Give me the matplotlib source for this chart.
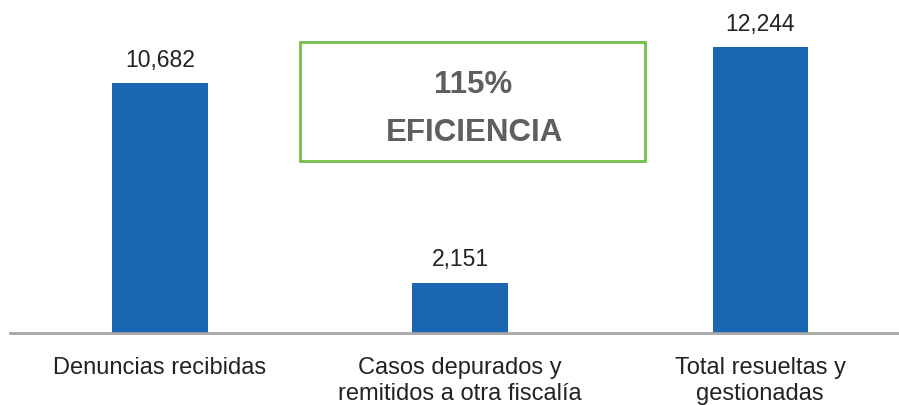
import matplotlib
matplotlib.use("Agg")
import matplotlib.pyplot as plt
from matplotlib.patches import Rectangle

categories = ["Denuncias recibidas",
              "Casos depurados y\nremitidos a otra fiscalía",
              "Total resueltas y\ngestionadas"]
values = [10682, 2151, 12244]
value_labels = ["10,682", "2,151", "12,244"]
box_lines = ["115%", "EFICIENCIA"]

plt.rcParams['font.family'] = ['Liberation Sans', 'DejaVu Sans']

W, H = 899, 405
fig = plt.figure(figsize=(W / 100, H / 100), dpi=100)
base = 333
ax = fig.add_axes([10 / W, (H - base) / H, (W - 10) / W, base / H])

x = list(range(len(values)))
ax.bar(x, values, width=0.317, color='#1a66b2', zorder=2)
ax.set_xlim(-0.5, 2.463)
ax.set_ylim(0, 14255)

for xi, v, lab in zip(x, values, value_labels):
    ax.text(xi, v + 700, lab, ha='center', va='baseline', fontsize=16.5, color='#222222')

for spine in ['top', 'right', 'left']:
    ax.spines[spine].set_visible(False)
ax.spines['bottom'].set_color('#a6a6a6')
ax.spines['bottom'].set_linewidth(2)
ax.set_yticks([])
ax.set_xticks(x)
ax.set_xticklabels(categories, fontsize=17, color='#222222', linespacing=1.26)
ax.tick_params(axis='x', length=0, pad=17)

# efficiency box
fig.patches.append(Rectangle((300 / W, 1 - 161 / H), 345 / W, 119 / H,
                             transform=fig.transFigure, fill=False,
                             edgecolor='#72bf4c', linewidth=2))
fig.text(473 / W, 1 - 93 / H, box_lines[0], ha='center', va='baseline',
         fontsize=22.5, fontweight='bold', color='#5f5f5f')
fig.text(475 / W, 1 - 141 / H, box_lines[1], ha='center', va='baseline',
         fontsize=22.5, fontweight='bold', color='#5f5f5f')

fig.savefig("out.png", dpi=100)
